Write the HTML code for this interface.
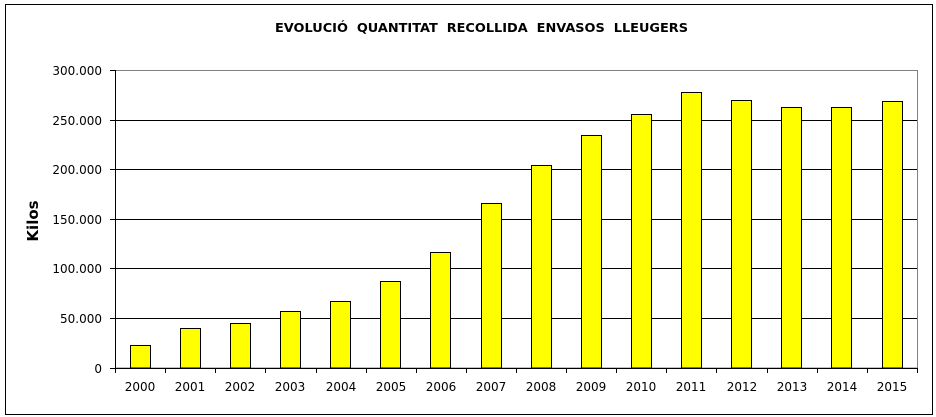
<!DOCTYPE html>
<html><head><meta charset="utf-8"><style>body{margin:0;background:#fff}svg{display:block}</style></head><body>
<svg width="936" height="417" xmlns="http://www.w3.org/2000/svg" font-family="DejaVu Sans, Verdana, sans-serif">
<rect x="0" y="0" width="936" height="417" fill="#fff"/>
<rect x="5.5" y="4.5" width="927" height="410" fill="none" stroke="#000" stroke-width="1"/>
<text x="275" y="32" font-size="12" font-weight="bold" textLength="413" lengthAdjust="spacingAndGlyphs" style="white-space:pre" xml:space="preserve">EVOLUCIÓ  QUANTITAT  RECOLLIDA  ENVASOS  LLEUGERS</text>
<g stroke="#000" stroke-width="1">
<line x1="110" y1="120.5" x2="917" y2="120.5"/>
<line x1="110" y1="169.5" x2="917" y2="169.5"/>
<line x1="110" y1="219.5" x2="917" y2="219.5"/>
<line x1="110" y1="268.5" x2="917" y2="268.5"/>
<line x1="110" y1="318.5" x2="917" y2="318.5"/>
<line x1="110" y1="70.5" x2="115" y2="70.5"/>
</g>
<rect x="115.5" y="70.5" width="802" height="297.5" fill="none" stroke="#808080"/>
<g fill="#ffff00" stroke="#000" stroke-width="1">
<rect x="130.5" y="345.5" width="20" height="22.5"/>
<rect x="180.5" y="328.5" width="20" height="39.5"/>
<rect x="230.5" y="323.5" width="20" height="44.5"/>
<rect x="280.5" y="311.5" width="20" height="56.5"/>
<rect x="330.5" y="301.5" width="20" height="66.5"/>
<rect x="380.5" y="281.5" width="20" height="86.5"/>
<rect x="430.5" y="252.5" width="20" height="115.5"/>
<rect x="481.5" y="203.5" width="20" height="164.5"/>
<rect x="531.5" y="165.5" width="20" height="202.5"/>
<rect x="581.5" y="135.5" width="20" height="232.5"/>
<rect x="631.5" y="114.5" width="20" height="253.5"/>
<rect x="681.5" y="92.5" width="20" height="275.5"/>
<rect x="731.5" y="100.5" width="20" height="267.5"/>
<rect x="781.5" y="107.5" width="20" height="260.5"/>
<rect x="831.5" y="107.5" width="20" height="260.5"/>
<rect x="882.5" y="101.5" width="20" height="266.5"/>
</g>
<g stroke="#000" stroke-width="1">
<line x1="115.5" y1="70" x2="115.5" y2="368"/>
<line x1="110" y1="368.5" x2="917" y2="368.5"/>
<line x1="115.5" y1="368" x2="115.5" y2="373"/>
<line x1="165.5" y1="368" x2="165.5" y2="373"/>
<line x1="215.5" y1="368" x2="215.5" y2="373"/>
<line x1="265.5" y1="368" x2="265.5" y2="373"/>
<line x1="316.5" y1="368" x2="316.5" y2="373"/>
<line x1="366.5" y1="368" x2="366.5" y2="373"/>
<line x1="416.5" y1="368" x2="416.5" y2="373"/>
<line x1="466.5" y1="368" x2="466.5" y2="373"/>
<line x1="516.5" y1="368" x2="516.5" y2="373"/>
<line x1="566.5" y1="368" x2="566.5" y2="373"/>
<line x1="616.5" y1="368" x2="616.5" y2="373"/>
<line x1="666.5" y1="368" x2="666.5" y2="373"/>
<line x1="716.5" y1="368" x2="716.5" y2="373"/>
<line x1="767.5" y1="368" x2="767.5" y2="373"/>
<line x1="817.5" y1="368" x2="817.5" y2="373"/>
<line x1="867.5" y1="368" x2="867.5" y2="373"/>
<line x1="917.5" y1="368" x2="917.5" y2="373"/>
</g>
<g font-size="12" text-anchor="end" fill="#000">
<text x="102" y="75">300.000</text>
<text x="102" y="125">250.000</text>
<text x="102" y="174">200.000</text>
<text x="102" y="224">150.000</text>
<text x="102" y="273">100.000</text>
<text x="102" y="323">50.000</text>
<text x="102" y="373">0</text>
</g>
<g font-size="12" text-anchor="middle" fill="#000">
<text x="140" y="391">2000</text><text x="190" y="391">2001</text><text x="240" y="391">2002</text><text x="290" y="391">2003</text>
<text x="341" y="391">2004</text><text x="391" y="391">2005</text><text x="441" y="391">2006</text><text x="491" y="391">2007</text>
<text x="541" y="391">2008</text><text x="591" y="391">2009</text><text x="641" y="391">2010</text><text x="691" y="391">2011</text>
<text x="742" y="391">2012</text><text x="792" y="391">2013</text><text x="842" y="391">2014</text><text x="892" y="391">2015</text>
</g>
<text transform="translate(38,221) rotate(-90)" text-anchor="middle" font-size="15" font-weight="bold">Kilos</text>
</svg>
</body></html>
